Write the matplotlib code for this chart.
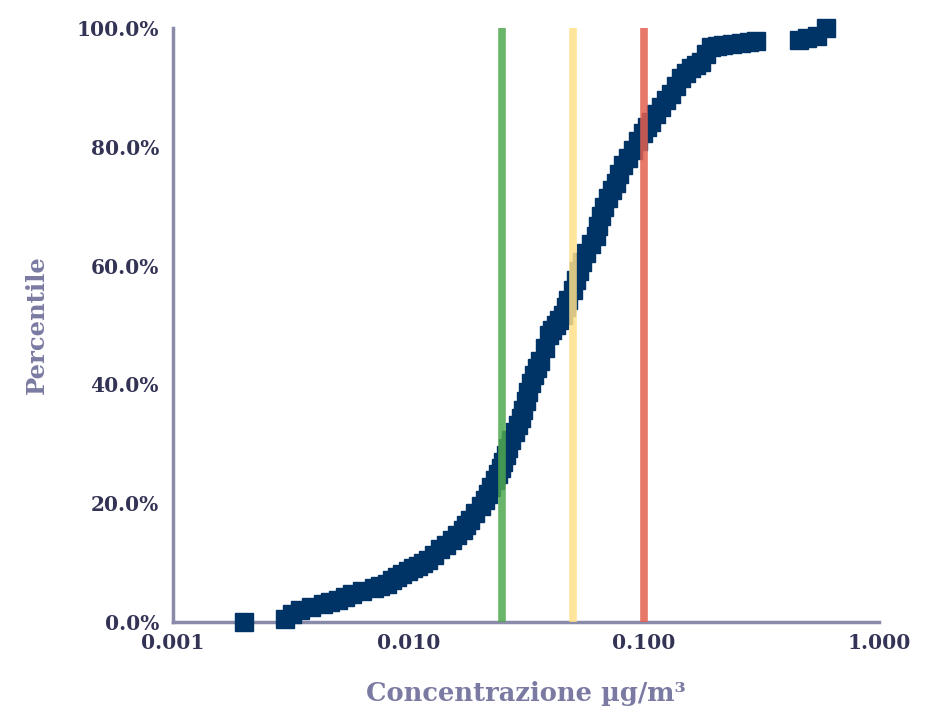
import numpy as np
import matplotlib
matplotlib.use("Agg")
import matplotlib.pyplot as plt
from matplotlib.ticker import FixedLocator, FixedFormatter

# concentrazioni (ug/m3) e percentili
conc = [0.0020, 0.0030, 0.00321, 0.00347, 0.00387, 0.00435, 0.004657, 0.00504,
        0.005394, 0.00578, 0.00637, 0.00717, 0.007601, 0.00814, 0.008549, 0.00898,
        0.00943, 0.0100, 0.0105, 0.01103, 0.01158, 0.01217, 0.0129, 0.01368,
        0.01451, 0.01539, 0.01616, 0.01698, 0.01765, 0.01836, 0.01928, 0.02025,
        0.02106, 0.02169, 0.02233, 0.02323, 0.02392, 0.02464, 0.02512, 0.02588,
        0.02638, 0.02716, 0.02825, 0.02909, 0.02997, 0.03055, 0.03147, 0.03209,
        0.03304, 0.03404, 0.03505, 0.03610, 0.03792, 0.03943, 0.04060, 0.04222,
        0.04347, 0.04521, 0.04657, 0.04749, 0.04988, 0.05136, 0.05289, 0.05447,
        0.05664, 0.05948, 0.06248, 0.06372, 0.06562, 0.06758, 0.07028, 0.07308,
        0.07601, 0.07830, 0.08143, 0.08552, 0.08982, 0.09434, 0.09903, 0.1030,
        0.1071, 0.1125, 0.1181, 0.1241, 0.1303, 0.1368, 0.1437, 0.1510,
        0.1585, 0.1665, 0.1748, 0.1836, 0.1928, 0.2044, 0.2169, 0.2368,
        0.2587, 0.2798, 0.2998, 0.4567, 0.4939, 0.5449, 0.5950]
pct = [0.0, 0.51, 1.35, 2.02, 2.53, 3.03, 3.37, 3.70,
       4.21, 4.71, 5.22, 5.72, 6.06, 6.40, 7.07, 7.58,
       8.08, 8.59, 9.09, 9.43, 9.93, 10.44, 11.28, 12.29,
       12.96, 13.80, 14.65, 15.49, 16.33, 17.17, 18.35, 19.53,
       20.54, 21.55, 22.73, 23.91, 24.92, 25.93, 26.94, 28.11,
       29.29, 30.64, 31.99, 33.16, 34.34, 35.69, 37.21, 38.72,
       40.24, 41.58, 42.76, 43.94, 46.13, 48.32, 49.16, 50.00,
       50.84, 51.68, 53.03, 54.21, 55.89, 57.58, 59.09, 60.61,
       62.12, 63.64, 64.98, 66.67, 68.35, 69.87, 71.38, 72.73,
       73.91, 75.42, 76.94, 78.11, 79.46, 80.98, 82.32, 83.33,
       84.18, 85.52, 86.70, 87.88, 88.89, 90.24, 91.58, 92.42,
       93.27, 93.77, 94.28, 95.62, 96.80, 96.97, 97.14, 97.31,
       97.47, 97.64, 97.81, 97.98, 98.32, 98.65, 100.0]

# soglie
soglie = [0.025, 0.05, 0.1]
colori_soglie = ['#4fa84f', '#ffe08a', '#e4604f']

xticks = [0.001, 0.01, 0.1, 1.0]
xlabels = ['0.001', '0.010', '0.100', '1.000']
yticks = [0, 20, 40, 60, 80, 100]
ylabels = ['0.0%', '20.0%', '40.0%', '60.0%', '80.0%', '100.0%']

plt.rcParams['font.family'] = ['DejaVu Serif']

fig = plt.figure(figsize=(9.28, 7.12), dpi=100)
ax = fig.add_axes([0.1864, 0.1264, 0.761, 0.834])

ax.plot(conc, pct, linestyle='none', marker='s', markersize=13,
        color='#003366', clip_on=False, zorder=4)

for s, c in zip(soglie, colori_soglie):
    ax.axvline(s, color=c, lw=5.5, alpha=0.85, zorder=5)

ax.set_xscale('log')
ax.set_xlim(0.001, 1.0)
ax.set_ylim(0, 100)
ax.xaxis.set_major_locator(FixedLocator(xticks))
ax.xaxis.set_major_formatter(FixedFormatter(xlabels))
ax.xaxis.set_minor_locator(FixedLocator([]))
ax.set_yticks(yticks)
ax.set_yticklabels(ylabels)

for sp in ['top', 'right']:
    ax.spines[sp].set_visible(False)
for sp in ['left', 'bottom']:
    ax.spines[sp].set_color('#8a8aaa')
    ax.spines[sp].set_linewidth(2.5)

ax.tick_params(length=0, labelsize=14.5, labelcolor='#333355')
ax.tick_params(axis='y', pad=10)
ax.tick_params(axis='x', pad=8)
for lab in ax.get_xticklabels() + ax.get_yticklabels():
    lab.set_fontweight('bold')

ax.set_xlabel('Concentrazione µg/m³', fontsize=18.5, color='#7a7aa2',
              fontweight='bold', labelpad=20)
ax.set_ylabel('Percentile', fontsize=17.5, color='#7a7aa2',
              fontweight='bold', labelpad=20)

plt.savefig('out.png', dpi=100)
